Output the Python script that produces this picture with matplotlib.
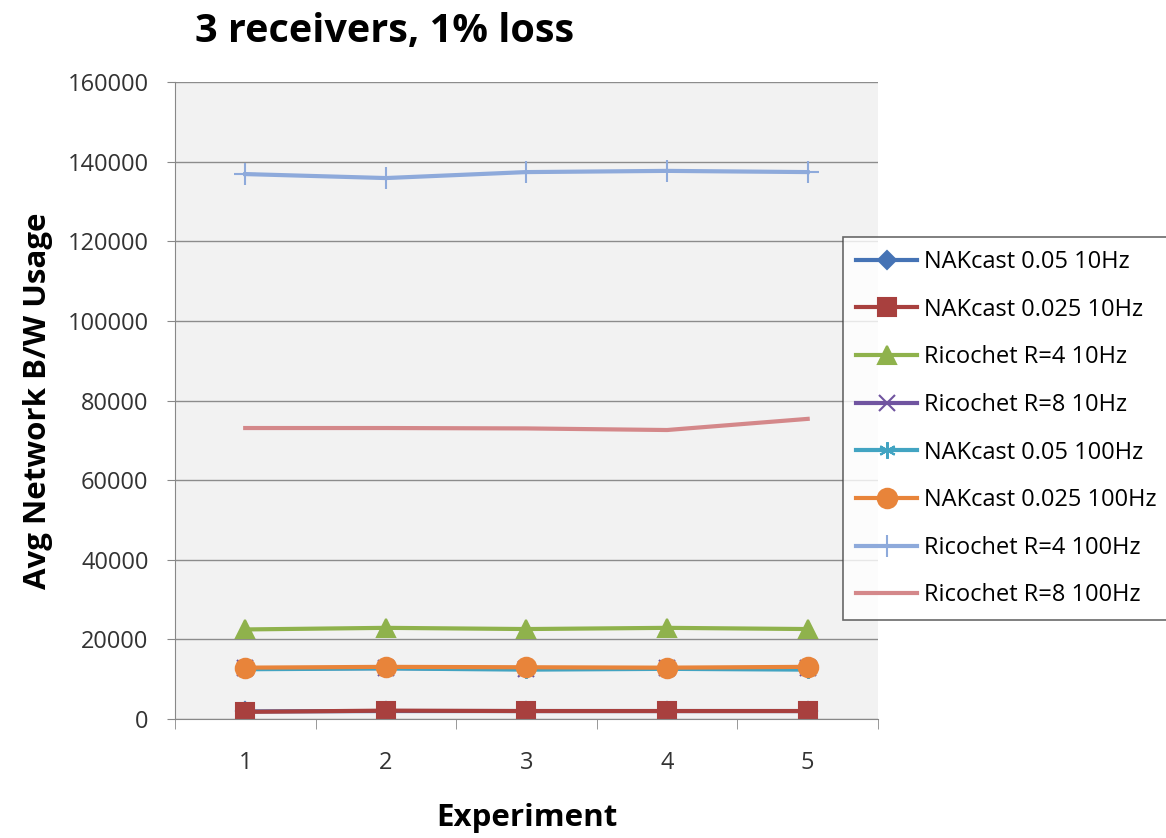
import matplotlib.pyplot as plt

plt.rcParams['font.family'] = ['Open Sans', 'DejaVu Sans']

experiments = [1, 2, 3, 4, 5]

nakcast_005_10 = [1900, 2000, 2000, 2000, 2000]
nakcast_0025_10 = [1800, 2100, 2000, 2000, 2000]
ricochet_r4_10 = [22500, 22900, 22600, 22900, 22600]
ricochet_r8_10 = [12700, 12800, 12600, 12700, 12700]
nakcast_005_100 = [12500, 12700, 12400, 12600, 12400]
nakcast_0025_100 = [12900, 13100, 13000, 12900, 13100]
ricochet_r4_100 = [136900, 135900, 137400, 137700, 137400]
ricochet_r8_100 = [73100, 73100, 73000, 72600, 75400]

series = [
    ("NAKcast 0.05 10Hz", nakcast_005_10, "#4573b5", "D", 9),
    ("NAKcast 0.025 10Hz", nakcast_0025_10, "#a8403e", "s", 13),
    ("Ricochet R=4 10Hz", ricochet_r4_10, "#8fb24c", "^", 13),
    ("Ricochet R=8 10Hz", ricochet_r8_10, "#7054a0", "x", 11),
    ("NAKcast 0.05 100Hz", nakcast_005_100, "#42a4c2", (6, 2, 0), 12),
    ("NAKcast 0.025 100Hz", nakcast_0025_100, "#e8843a", "o", 14),
    ("Ricochet R=4 100Hz", ricochet_r4_100, "#8eaadb", "+", 16),
    ("Ricochet R=8 100Hz", ricochet_r8_100, "#d4888a", None, 0),
]

fig = plt.figure(figsize=(11.66, 8.38), dpi=100)
ax = fig.add_axes([0.150, 0.142, 0.603, 0.760])
ax.set_facecolor("#f2f2f2")

for name, vals, color, marker, ms in series:
    ax.plot(experiments, vals, color=color, lw=3, marker=marker, ms=ms,
            mec=color, mew=1.5, label=name)

ax.set_xlim(0.5, 5.5)
ax.set_ylim(0, 160000)
ax.set_yticks(range(0, 160001, 20000))
ax.set_xticks(experiments)
ax.set_xticks([0.5, 1.5, 2.5, 3.5, 4.5, 5.5], minor=True)
ax.tick_params(axis='x', which='major', length=0, pad=23, labelsize=17)
ax.tick_params(axis='x', which='minor', length=7, color='#888888')
ax.tick_params(axis='y', length=6, color='#888888', labelsize=17, pad=13)
for lbl in ax.get_xticklabels() + ax.get_yticklabels():
    lbl.set_color('#333333')
ax.grid(axis='y', color='#8c8c8c', lw=1)
ax.set_axisbelow(True)
for s in ['top', 'right']:
    ax.spines[s].set_visible(False)
for s in ['left', 'bottom']:
    ax.spines[s].set_color('#888888')

ax.set_xlabel("Experiment", fontsize=22.5, fontweight='bold', labelpad=20)
ax.set_ylabel("Avg Network B/W Usage", fontsize=22.5, fontweight='bold', labelpad=10)
fig.text(0.167, 0.963, "3 receivers, 1% loss", fontsize=28.5, fontweight='bold',
         va='center', ha='left')

leg = fig.legend(loc='upper left', bbox_to_anchor=(0.723, 0.717), fontsize=17,
                 frameon=True, fancybox=False, edgecolor='#444444',
                 labelspacing=1.0, handlelength=2.6, borderpad=0.55,
                 handletextpad=0.3, borderaxespad=0)
leg.get_frame().set_linewidth(1.2)

fig.savefig("out.png", dpi=100, facecolor='white')
